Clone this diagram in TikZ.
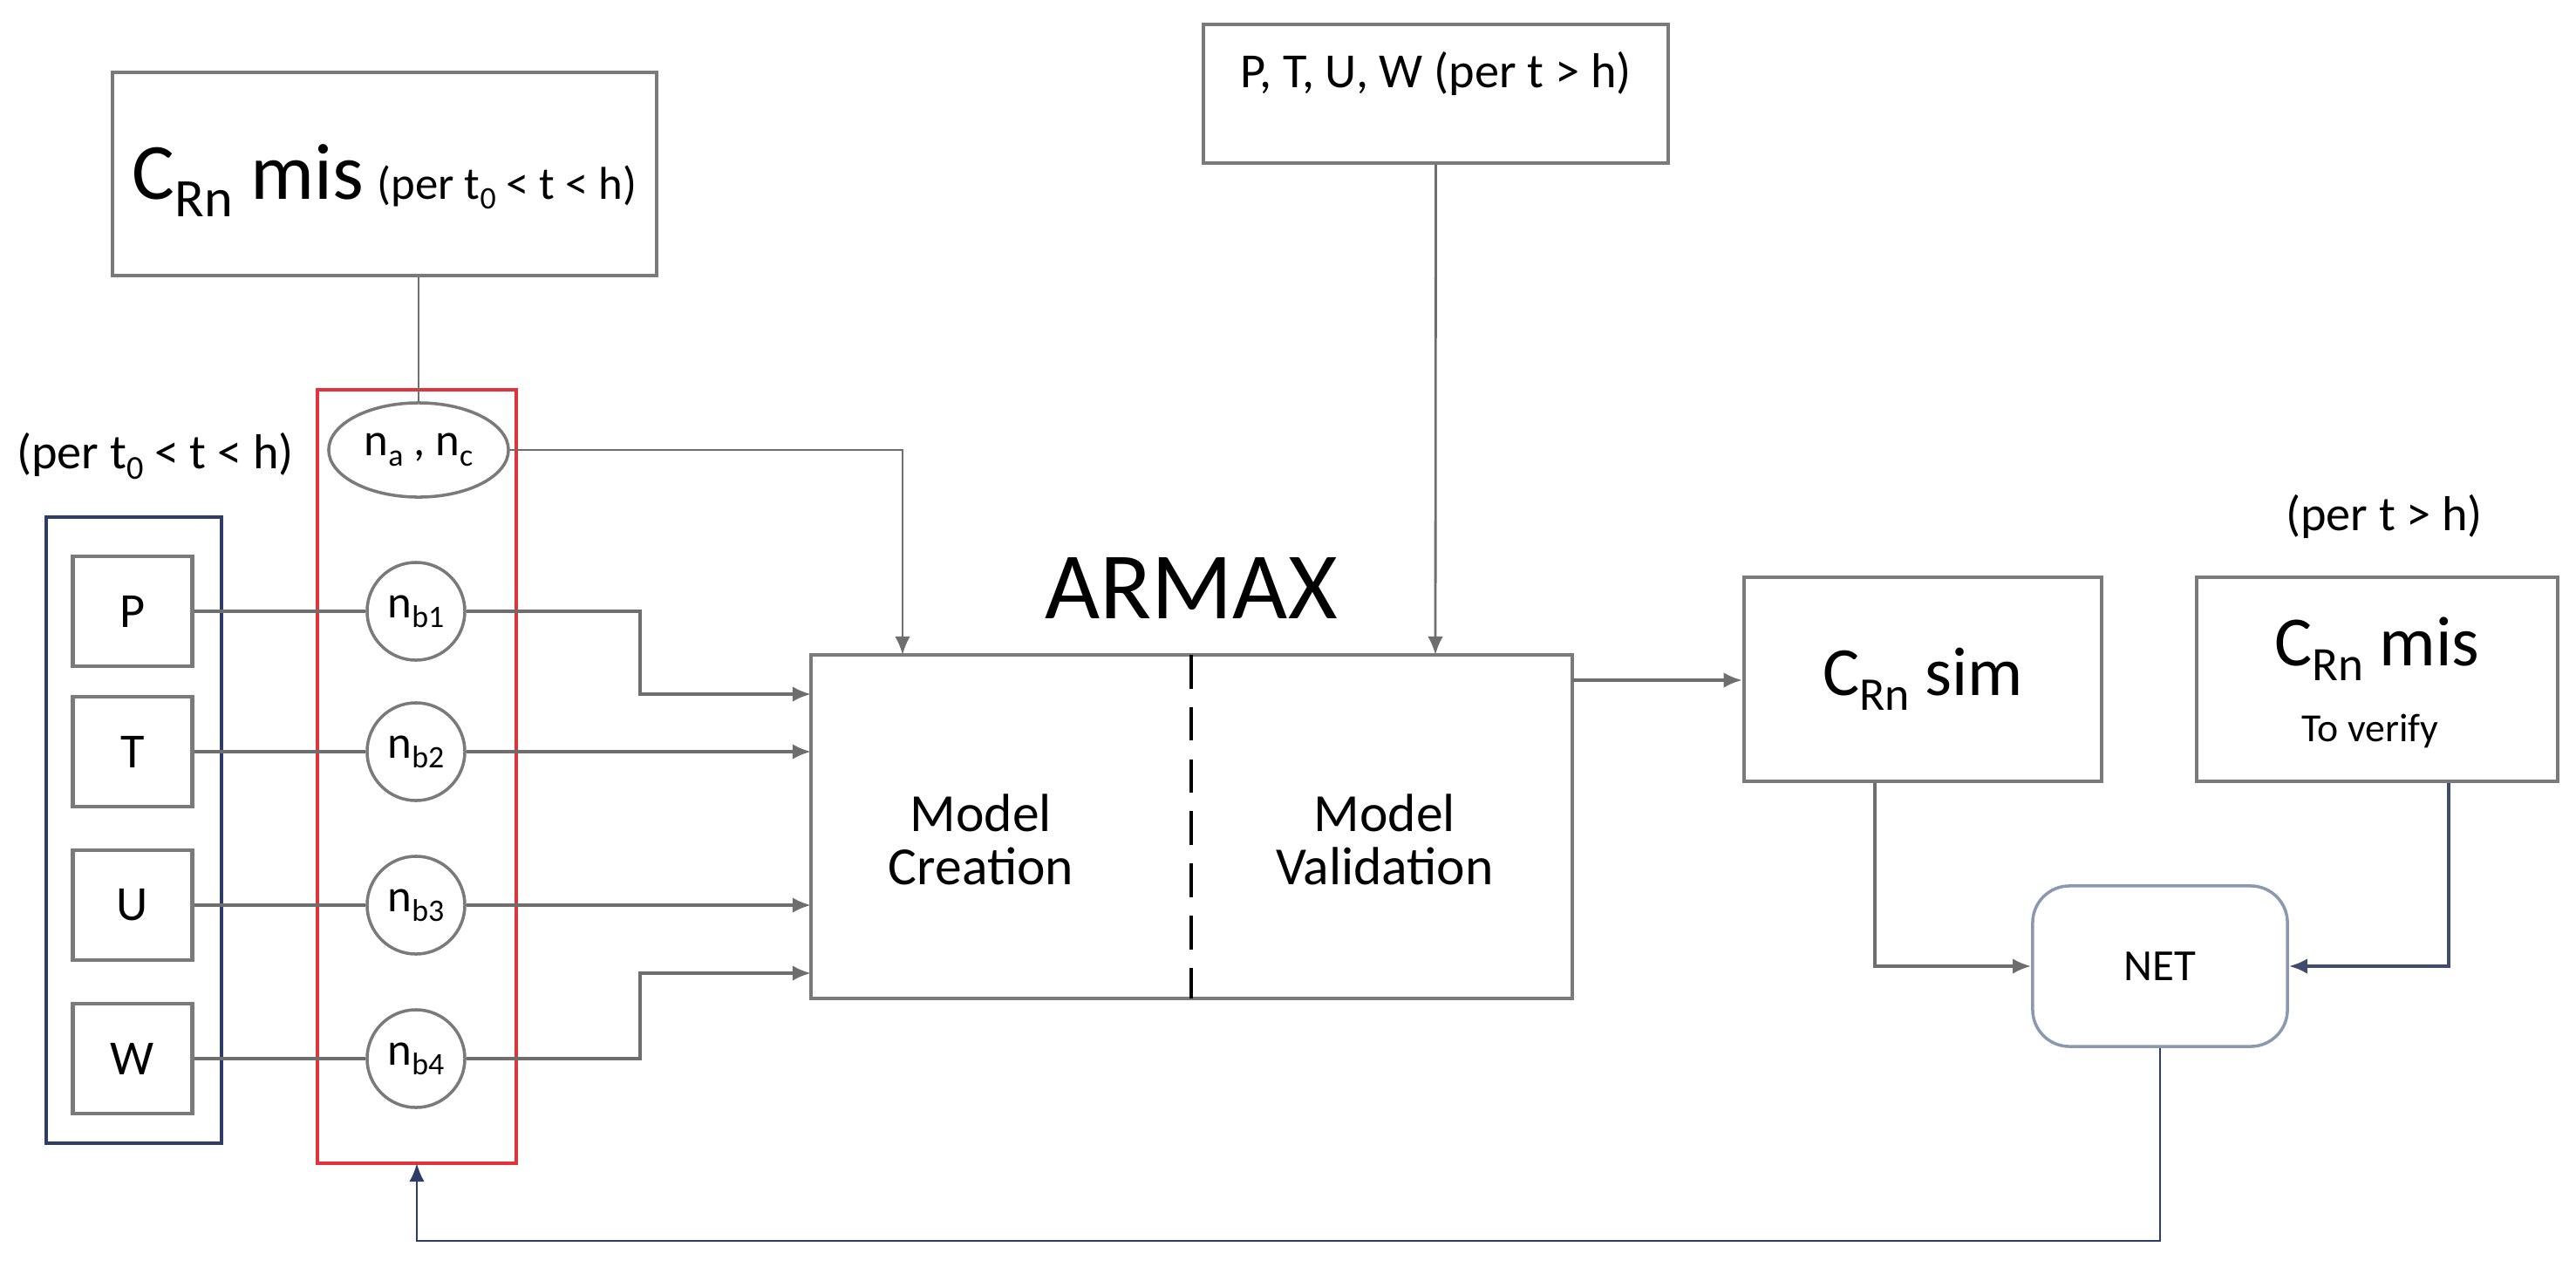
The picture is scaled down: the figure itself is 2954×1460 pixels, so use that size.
\documentclass[tikz,border=0pt]{standalone}
\usepackage{fontspec}
\setmainfont{Carlito}
\usetikzlibrary{arrows.meta,shapes.geometric}
\newcommand\lowsub[1]{\raisebox{-0.45ex}{\scalebox{0.68}{#1}}}
\newcommand\fs[1]{\fontsize{#1}{#1}\selectfont}
\definecolor{gline}{HTML}{6E6E6E}
\definecolor{gbox}{HTML}{7A7A7A}
\definecolor{navy}{HTML}{2E3C6A}
\definecolor{redb}{HTML}{E0343A}
\definecolor{netb}{HTML}{8A98B0}
\begin{document}
\begin{tikzpicture}[x=0.01cm,y=-0.01cm,
  box/.style={draw=gbox,line width=1.2pt,inner sep=0pt,align=center},
  circ/.style={draw=gbox,line width=1pt,circle,inner sep=0pt,font=\fs{15}},
  conn/.style={draw=gline,line width=1pt},
  arr/.style={conn,-{Latex[length=6pt,width=5pt]}},
  thin/.style={draw=gline,line width=0.7pt}]
\useasboundingbox (0,0) rectangle (2954,1460);
% top boxes
\node[box,minimum width=6.24cm,minimum height=2.33cm] (cmis0) at (441,199.5) {};
\node[font=\fs{26}] (cmis0t) at (441,207) {C\lowsub{Rn} mis\,{\fs{15}(per t\lowsub{0} < t < h)}};
\node[box,minimum width=5.33cm,minimum height=1.59cm] (ptuw) at (1646.5,107.5) {};
\node[font=\fs{16}] (ptuwt) at (1646.5,84) {P, T, U, W (per t > h)};
% left label
\node[font=\fs{16}] (lab1) at (178,523) {(per t\lowsub{0} < t < h)};
% blue and red frames
\draw[navy,line width=1.1pt] (53,593) rectangle (254,1311);
\draw[redb,line width=1.4pt] (364,447) rectangle (592,1334);
\coordinate (redbot) at (478,1334);
% variable boxes
\foreach \n/\t/\y in {p/P/701,t/T/862,u/U/1038,w/W/1214}{
  \node[box,minimum width=1.37cm,minimum height=1.26cm,font=\fs{16}] (\n) at (152,\y) {\t};
}
% circles
\node[draw=gbox,line width=1pt,ellipse,minimum width=2.06cm,minimum height=1.08cm,inner sep=0pt,font=\fs{15}] (nac) at (480,516) {n\lowsub{a} , n\lowsub{c}};
\node[circ,minimum size=1.12cm] (b1) at (477,701) {n\lowsub{b1}};
\node[circ,minimum size=1.12cm] (b2) at (477,862) {n\lowsub{b2}};
\node[circ,minimum size=1.12cm] (b3) at (477,1038) {n\lowsub{b3}};
\node[circ,minimum size=1.12cm] (b4) at (477,1214) {n\lowsub{b4}};
% ARMAX
\node[box,minimum width=8.73cm,minimum height=3.94cm] (armax) at (1366.5,948) {};
\draw[black,line width=1.3pt,dash pattern=on 11pt off 6pt] (1366,751) -- (1366,1145);
\node[font=\fs{31}] (armaxlab) at (1366,675) {ARMAX};
\node[font=\fs{17.5},align=center] (mc) at (1125,963) {Model\\Creation};
\node[font=\fs{17.5},align=center] (mv) at (1588,963) {Model\\Validation};
% right boxes
\node[box,minimum width=4.1cm,minimum height=2.34cm] (csim) at (2205,779) {\fs{22.5}C\lowsub{Rn} sim};
\node[box,minimum width=4.14cm,minimum height=2.34cm] (cmis) at (2726,779) {};
\node[font=\fs{23}] (cmist) at (2726,744) {C\lowsub{Rn} mis};
\node[font=\fs{13}] (verify) at (2718,838) {To verify};
\node[font=\fs{16}] (lab2) at (2734,592) {(per t > h)};
\node[draw=netb,line width=1pt,rounded corners=12pt,minimum width=2.92cm,minimum height=1.84cm,font=\fs{14.5}] (net) at (2477,1108) {NET};
% connectors
\draw[thin] (cmis0.south -| nac.north) -- (nac.north);
\draw[arr,line width=0.8pt] (nac.east) -| (1035,751);
\draw[arr,line width=0.8pt] (ptuw.south) -- (1646,751);
\draw[conn] (p.east) -- (b1.west);
\draw[conn] (t.east) -- (b2.west);
\draw[conn] (u.east) -- (b3.west);
\draw[conn] (w.east) -- (b4.west);
\draw[arr] (b1.east) -- (734,701) |- (930,796);
\draw[arr] (b2.east) -- (930,862);
\draw[arr] (b3.east) -- (930,1038);
\draw[arr] (b4.east) -- (734,1214) |- (930,1116);
\draw[arr] (1803,780) -- (csim.west |- 0,780);
\draw[arr] (csim.south -| 2150,0) |- (net.west);
\draw[arr,draw=navy!70!gline] (cmis.south -| 2808,0) |- (net.east);
\draw[draw=navy,line width=0.8pt,-{Latex[length=6pt,width=5pt]}] (net.south) -- (2477,1423) -| (redbot);
\end{tikzpicture}
\end{document}
